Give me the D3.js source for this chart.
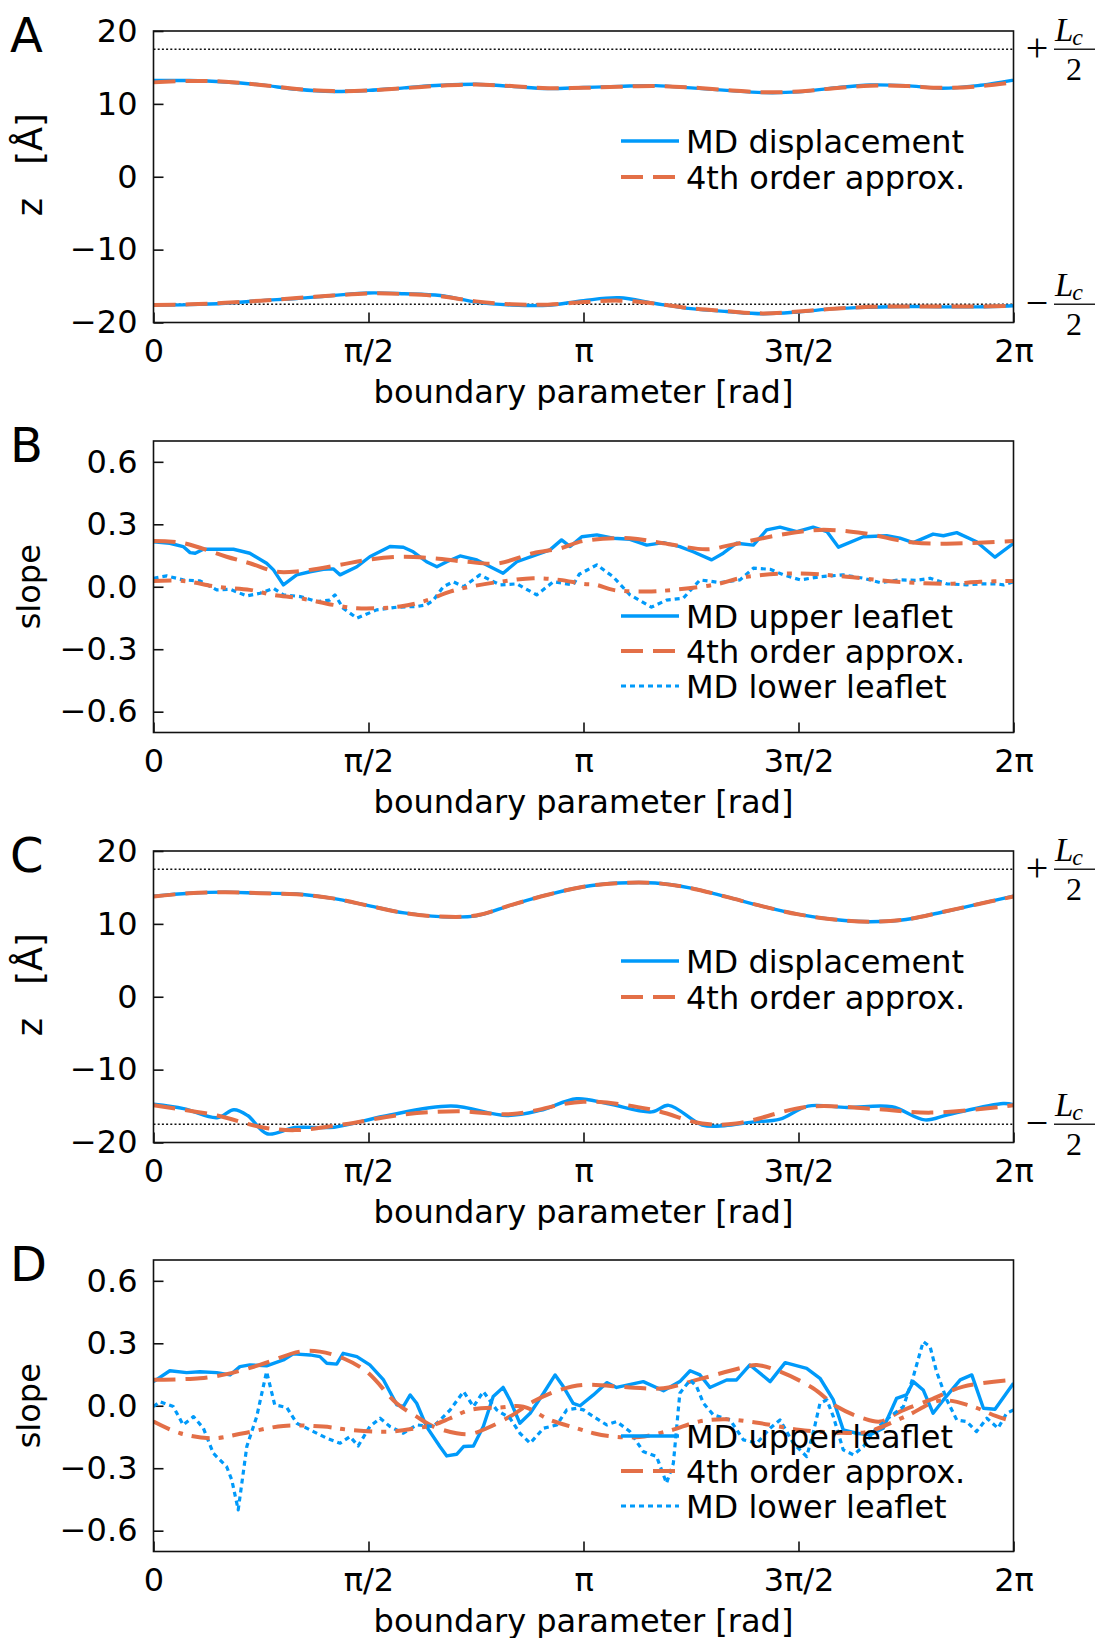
<!DOCTYPE html>
<html><head><meta charset="utf-8">
<script src="https://cdnjs.cloudflare.com/ajax/libs/d3/7.8.5/d3.min.js"></script>
<style>
body{margin:0;background:#fff}
svg{display:block}
text{font-family:"DejaVu Sans",sans-serif;fill:#000}
</style>
</head><body>
<svg id="c" width="1107" height="1638"></svg>
<script>
// ---------- axes / labels ----------
const xTickVals = [0, 0.5, 1, 1.5, 2];            // units of π
const xTickLabels = ["0", "π/2", "π", "3π/2", "2π"];
const zTicks = [-20, -10, 0, 10, 20];
const slopeTicks = [-0.6, -0.3, 0, 0.3, 0.6];
const halfLc = 17.5;
const panelLetters = ["A", "B", "C", "D"];

// ---------- Panel A (x in units of π) ----------
const aX = [0,0.083,0.167,0.25,0.333,0.417,0.5,0.583,0.667,0.75,0.833,0.917,1,1.083,1.167,1.25,1.333,1.417,1.5,1.583,1.667,1.75,1.833,1.917,2];
const aUpperMd  = [13.2,13.2,13.0,12.6,12.0,11.7,11.85,12.2,12.55,12.7,12.4,12.1,12.25,12.4,12.5,12.2,11.85,11.55,11.65,12.2,12.6,12.5,12.15,12.5,13.25];
const aUpperFit = [12.95,13.15,13.05,12.6,12.05,11.75,11.85,12.15,12.5,12.65,12.45,12.15,12.2,12.35,12.45,12.25,11.9,11.6,11.7,12.15,12.5,12.45,12.2,12.4,12.95];
const aLowerMd  = [-17.65,-17.55,-17.35,-17.0,-16.7,-16.3,-15.95,-16.05,-16.3,-17.2,-17.6,-17.65,-17.0,-16.6,-17.4,-18.1,-18.5,-18.8,-18.55,-18.1,-17.9,-17.8,-17.85,-17.85,-17.7];
const aLowerFit = [-17.6,-17.5,-17.3,-17.0,-16.65,-16.3,-16.0,-16.1,-16.4,-17.1,-17.5,-17.55,-17.2,-17.0,-17.4,-18.05,-18.45,-18.75,-18.5,-18.1,-17.85,-17.8,-17.8,-17.8,-17.7];

// ---------- Panel B ----------
const bUpperMdX = [0,0.038,0.069,0.085,0.097,0.116,0.186,0.224,0.263,0.279,0.302,0.333,0.364,0.395,0.418,0.434,0.473,0.503,0.55,0.581,0.604,0.635,0.659,0.682,0.713,0.752,0.783,0.813,0.845,0.883,0.922,0.949,0.969,0.996,1.031,1.069,1.108,1.147,1.186,1.224,1.255,1.298,1.325,1.356,1.395,1.426,1.457,1.496,1.534,1.566,1.593,1.651,1.705,1.736,1.767,1.813,1.837,1.868,1.914,1.957,2];
const bUpperMdY = [0.216,0.209,0.193,0.164,0.161,0.18,0.18,0.161,0.113,0.081,0.009,0.057,0.072,0.084,0.086,0.057,0.096,0.144,0.193,0.19,0.168,0.12,0.096,0.12,0.148,0.129,0.096,0.065,0.12,0.148,0.177,0.225,0.193,0.24,0.249,0.233,0.228,0.2,0.212,0.193,0.168,0.129,0.161,0.209,0.2,0.273,0.286,0.265,0.286,0.265,0.19,0.24,0.245,0.233,0.212,0.253,0.245,0.26,0.216,0.142,0.209];
const bUpperFitX = [0,0.069,0.17,0.224,0.286,0.341,0.434,0.496,0.574,0.65,0.728,0.8,0.883,0.945,1.0,1.108,1.186,1.287,1.341,1.457,1.55,1.651,1.767,1.883,2];
const bUpperFitY = [0.22,0.21,0.144,0.113,0.072,0.075,0.105,0.129,0.144,0.137,0.12,0.112,0.161,0.184,0.22,0.233,0.209,0.18,0.2,0.249,0.273,0.257,0.212,0.209,0.22];
const bLowerMdX = [0,0.031,0.069,0.108,0.147,0.178,0.217,0.248,0.279,0.302,0.341,0.38,0.41,0.422,0.441,0.473,0.519,0.566,0.612,0.635,0.651,0.674,0.697,0.721,0.759,0.806,0.845,0.891,0.93,0.976,0.99,1.031,1.069,1.108,1.158,1.193,1.232,1.271,1.318,1.364,1.395,1.434,1.465,1.504,1.55,1.604,1.651,1.69,1.736,1.774,1.806,1.845,1.891,1.922,1.961,1.977,2];
const bLowerMdY = [0.041,0.052,0.033,0.028,-0.015,-0.012,-0.044,-0.031,-0.007,-0.039,-0.047,-0.071,-0.064,-0.039,-0.103,-0.151,-0.111,-0.098,-0.095,-0.087,-0.064,0.0,0.024,0.0,0.057,0.009,0.014,-0.039,0.024,0.009,0.06,0.105,0.048,-0.039,-0.098,-0.064,-0.055,0.033,0.02,0.033,0.089,0.084,0.057,0.033,0.048,0.057,0.041,0.02,0.033,0.031,0.041,0.014,0.009,0.014,0.014,0.009,0.024];
const bLowerFitX = [0,0.069,0.147,0.224,0.278,0.341,0.418,0.473,0.573,0.627,0.69,0.736,0.806,0.883,0.945,0.999,1.03,1.069,1.147,1.209,1.302,1.38,1.496,1.612,1.729,1.845,1.922,2];
const bLowerFitY = [0.028,0.028,0.0,-0.015,-0.039,-0.055,-0.087,-0.103,-0.095,-0.071,-0.023,0.0,0.024,0.041,0.033,0.014,0.009,-0.015,-0.023,-0.015,0.009,0.048,0.064,0.048,0.024,0.014,0.024,0.028];

// ---------- Panel C ----------
const cUpperMd  = [13.8,14.2,14.35,14.2,14.1,13.5,12.5,11.5,11.0,11.1,12.6,14.0,15.1,15.6,15.6,14.9,13.7,12.4,11.3,10.6,10.3,10.6,11.6,12.7,13.8];
const cUpperFit = [13.75,14.2,14.35,14.2,14.05,13.5,12.5,11.5,11.0,11.15,12.6,14.0,15.1,15.6,15.6,14.9,13.7,12.4,11.3,10.6,10.3,10.6,11.6,12.7,13.75];
const cLowerMdX = [0,0.07,0.148,0.187,0.219,0.264,0.329,0.42,0.536,0.692,0.822,0.899,0.984,1.055,1.159,1.198,1.276,1.328,1.392,1.457,1.522,1.613,1.717,1.794,1.847,1.976,2];
const cLowerMdY = [-14.75,-15.35,-16.6,-15.5,-16.3,-18.8,-17.95,-17.9,-16.4,-15.0,-16.3,-15.6,-14.0,-14.65,-15.8,-14.9,-17.6,-17.7,-17.2,-16.8,-15.0,-15.2,-15.1,-16.9,-16.2,-14.65,-14.8];
const cLowerFitX = [0,0.148,0.252,0.329,0.445,0.575,0.706,0.834,1.0,1.159,1.276,1.355,1.522,1.678,1.808,2];
const cLowerFitY = [-14.9,-16.3,-17.9,-18.3,-17.5,-16.2,-15.7,-16.1,-14.4,-15.5,-17.4,-17.4,-15.1,-15.4,-15.9,-14.9];

// ---------- Panel D ----------
const dUpperMdX = [0,0.038,0.077,0.108,0.147,0.178,0.201,0.224,0.263,0.302,0.325,0.364,0.387,0.403,0.426,0.441,0.473,0.503,0.535,0.566,0.581,0.597,0.612,0.635,0.666,0.682,0.705,0.721,0.744,0.767,0.79,0.813,0.829,0.852,0.876,0.907,0.934,0.953,0.976,0.992,1.023,1.054,1.077,1.139,1.186,1.224,1.248,1.271,1.294,1.333,1.356,1.387,1.434,1.469,1.519,1.55,1.581,1.604,1.635,1.666,1.697,1.728,1.751,1.767,1.79,1.813,1.837,1.876,1.903,1.93,1.957,2];
const dUpperMdY = [0.116,0.168,0.159,0.163,0.159,0.148,0.188,0.196,0.192,0.22,0.249,0.244,0.236,0.204,0.2,0.252,0.236,0.196,0.124,0.004,-0.004,0.052,0.012,-0.1,-0.196,-0.241,-0.233,-0.196,-0.193,-0.1,0.044,0.088,0.027,-0.084,-0.036,0.06,0.148,0.092,0.011,0.0,0.052,0.111,0.088,0.116,0.072,0.116,0.168,0.148,0.088,0.124,0.124,0.196,0.116,0.207,0.18,0.132,0.028,-0.116,-0.132,-0.14,-0.108,0.035,0.052,0.116,0.076,-0.036,0.028,0.124,0.148,-0.012,-0.017,0.108];
const dUpperFitX = [0,0.108,0.17,0.247,0.34,0.387,0.441,0.496,0.566,0.612,0.651,0.705,0.736,0.775,0.829,0.883,0.945,1.0,1.108,1.186,1.263,1.379,1.403,1.457,1.534,1.589,1.65,1.69,1.736,1.806,1.883,2];
const dUpperFitY = [0.125,0.132,0.152,0.196,0.26,0.26,0.228,0.163,0.011,-0.052,-0.1,-0.132,-0.136,-0.108,-0.052,0.02,0.076,0.1,0.088,0.084,0.124,0.188,0.196,0.164,0.084,-0.004,-0.06,-0.076,-0.028,0.028,0.092,0.125];
const dLowerMdX = [0,0.015,0.046,0.069,0.093,0.116,0.139,0.17,0.182,0.197,0.217,0.24,0.263,0.282,0.31,0.333,0.372,0.403,0.434,0.457,0.476,0.503,0.527,0.55,0.581,0.612,0.651,0.69,0.721,0.744,0.767,0.798,0.829,0.852,0.876,0.907,0.938,0.961,0.984,1.0,1.023,1.054,1.077,1.108,1.139,1.17,1.193,1.209,1.224,1.248,1.263,1.279,1.302,1.341,1.372,1.403,1.434,1.457,1.488,1.519,1.534,1.55,1.566,1.581,1.604,1.628,1.651,1.674,1.713,1.744,1.767,1.79,1.806,1.821,1.845,1.868,1.891,1.914,1.938,1.964,1.984,2];
const dLowerMdY = [-0.004,0.02,-0.004,-0.092,-0.052,-0.108,-0.228,-0.292,-0.356,-0.5,-0.196,-0.052,0.164,0.004,-0.008,-0.084,-0.124,-0.156,-0.18,-0.148,-0.193,-0.1,-0.06,-0.1,-0.132,-0.092,-0.1,-0.02,0.068,-0.004,0.068,-0.02,-0.06,-0.132,-0.18,-0.108,-0.092,-0.02,-0.012,-0.02,-0.052,-0.092,-0.076,-0.124,-0.22,-0.244,-0.372,-0.276,0.06,0.124,0.092,0.012,-0.044,-0.068,-0.164,-0.18,-0.108,-0.068,-0.18,-0.244,-0.132,0.012,0.028,-0.052,-0.212,-0.236,-0.196,-0.124,-0.052,-0.004,0.14,0.308,0.284,0.164,0.028,-0.068,-0.076,-0.124,-0.06,-0.108,-0.036,-0.02];
const dLowerFitX = [0,0.062,0.139,0.209,0.302,0.395,0.457,0.55,0.612,0.651,0.69,0.736,0.806,0.86,0.922,0.984,1.023,1.069,1.13,1.2,1.27,1.33,1.4,1.5,1.6,1.66,1.75,1.83,1.9,1.96,2];
const dLowerFitY = [-0.076,-0.132,-0.156,-0.132,-0.097,-0.1,-0.116,-0.124,-0.108,-0.092,-0.06,-0.02,-0.008,-0.004,-0.068,-0.108,-0.132,-0.148,-0.15,-0.12,-0.075,-0.065,-0.08,-0.115,-0.13,-0.125,-0.05,0.025,0.0,-0.05,-0.076];

// ---------- drawing ----------
const BLUE = "#009AFA", ORANGE = "#E36F47";
const svg = d3.select("#c");
const X0 = 153.5, X1 = 1013.5, PH = 291.5;
const tops = [31, 441, 851, 1260];
const x = d3.scaleLinear().domain([0, 2]).range([X0, X1]);
const fmtMinus = s => s.replace("-", "\u2212");

function zip(xs, ys) { return xs.map((v, i) => [v, ys[i]]); }

function panel(i, kind, series, legend) {
  const top = tops[i];
  const g = svg.append("g");
  const y = kind === "z"
    ? d3.scaleLinear().domain([-20, 20]).range([top + PH, top])
    : d3.scaleLinear().domain([-0.7, 0.7]).range([top + PH, top]);

  // axes
  const yAxis = d3.axisLeft(y)
    .tickValues(kind === "z" ? zTicks : slopeTicks)
    .tickFormat(kind === "z" ? (d => fmtMinus(String(d))) : (d => fmtMinus(d3.format(".1f")(d))))
    .tickSizeInner(-10).tickSizeOuter(0).tickPadding(16);
  const ga = g.append("g").attr("transform", `translate(${X0},0)`).call(yAxis);
  const xAxis = d3.axisBottom(x).tickValues(xTickVals)
    .tickFormat((d, k) => xTickLabels[k])
    .tickSizeInner(-10).tickSizeOuter(0).tickPadding(17);
  const gb = g.append("g").attr("transform", `translate(0,${top + PH})`).call(xAxis);
  [ga, gb].forEach(a => {
    a.select(".domain").remove();
    a.selectAll(".tick line").attr("stroke", "#111").attr("stroke-width", 1.6);
    a.selectAll(".tick text").attr("font-size", 32).attr("font-family", "DejaVu Sans").attr("fill", "#000");
  });

  // clip
  const cid = "clip" + i;
  svg.append("clipPath").attr("id", cid).append("rect")
    .attr("x", X0).attr("y", top).attr("width", X1 - X0).attr("height", PH);
  const pg = g.append("g").attr("clip-path", `url(#${cid})`);

  if (kind === "z") {
    [halfLc, -halfLc].forEach(v => {
      pg.append("line").attr("x1", X0).attr("x2", X1).attr("y1", y(v)).attr("y2", y(v))
        .attr("stroke", "#111").attr("stroke-width", 1.4).attr("stroke-dasharray", "2,2.2");
    });
  }

  series.forEach(s => {
    const line = d3.line().x(d => x(d[0])).y(d => y(d[1]))
      .curve(s.smooth ? d3.curveCatmullRom.alpha(0.5) : d3.curveLinear);
    pg.append("path").datum(s.data).attr("d", line).attr("fill", "none")
      .attr("stroke", s.color).attr("stroke-width", s.width)
      .attr("stroke-dasharray", s.dash || null)
      .attr("stroke-linejoin", "round").attr("stroke-linecap", "butt");
  });

  // frame
  g.append("rect").attr("x", X0).attr("y", top).attr("width", X1 - X0).attr("height", PH)
    .attr("fill", "none").attr("stroke", "#111").attr("stroke-width", 1.6);

  // panel letter
  g.append("text").attr("x", 10).attr("y", top + 21).attr("font-size", 48).text(panelLetters[i]);

  // axis titles
  g.append("text").attr("x", (X0 + X1) / 2).attr("y", top + PH + 80)
    .attr("text-anchor", "middle").attr("font-size", 32).text("boundary parameter [rad]");
  if (kind === "z") {
    g.append("text").attr("transform", `translate(42,${top + PH / 2 - 12}) rotate(-90)`)
      .attr("text-anchor", "middle").attr("font-size", 35).attr("word-spacing", 22)
      .text("z [Å]");
  } else {
    g.append("text").attr("transform", `translate(40,${top + PH / 2}) rotate(-90)`)
      .attr("text-anchor", "middle").attr("font-size", 32).text("slope");
  }

  // legend
  legend.rows.forEach((r, k) => {
    const ly = top + legend.y0 + k * legend.dy;
    g.append("line").attr("x1", 621).attr("x2", 679).attr("y1", ly).attr("y2", ly)
      .attr("stroke", r.color).attr("stroke-width", r.width).attr("stroke-dasharray", r.dash || null);
    g.append("text").attr("x", 686).attr("y", ly + 11.5).attr("font-size", 32).text(r.label);
  });

  // ±Lc/2 labels
  if (kind === "z") {
    [[halfLc, "+"], [-halfLc, "\u2212"]].forEach(([v, sign]) => {
      const yy = y(v);
      const lg = g.append("g");
      lg.append("text").attr("x", 1037).attr("y", yy + 12).attr("text-anchor", "middle")
        .attr("font-size", 40).style("font-family", "Liberation Serif").attr("fill", "#666").text(sign);
      lg.append("line").attr("x1", 1054).attr("x2", 1095).attr("y1", yy).attr("y2", yy)
        .attr("stroke", "#222").attr("stroke-width", 1.4);
      const t = lg.append("text").attr("x", 1055).attr("y", yy - 8).attr("font-size", 33)
        .style("font-family", "Liberation Serif");
      t.append("tspan").attr("font-style", "italic").text("L");
      t.append("tspan").attr("font-style", "italic").attr("font-size", 24).attr("dy", 4).attr("dx", -1).text("c");
      lg.append("text").attr("x", 1074).attr("y", yy + 31).attr("text-anchor", "middle")
        .attr("font-size", 32).style("font-family", "Liberation Serif").text("2");
    });
  }
}

const mdSolid = { color: BLUE, width: 3.4 };
const fitDash = { color: ORANGE, width: 4, dash: "22,10" };
const mdDot = { color: BLUE, width: 3.2, dash: "5,4" };
const fitDashDot = { color: ORANGE, width: 4, dash: "18,9,5,9" };

panel(0, "z", [
  { data: zip(aX, aUpperMd), smooth: true, ...mdSolid },
  { data: zip(aX, aLowerMd), smooth: true, ...mdSolid },
  { data: zip(aX, aUpperFit), smooth: true, ...fitDash },
  { data: zip(aX, aLowerFit), smooth: true, ...fitDash }
], { y0: 110, dy: 36, rows: [
  { label: "MD displacement", ...mdSolid },
  { label: "4th order approx.", ...fitDash }
]});

panel(1, "slope", [
  { data: zip(bUpperMdX, bUpperMdY), smooth: false, ...mdSolid },
  { data: zip(bUpperFitX, bUpperFitY), smooth: true, ...fitDash },
  { data: zip(bLowerMdX, bLowerMdY), smooth: false, ...mdDot },
  { data: zip(bLowerFitX, bLowerFitY), smooth: true, ...fitDashDot }
], { y0: 175, dy: 35, rows: [
  { label: "MD upper leaflet", ...mdSolid },
  { label: "4th order approx.", ...fitDash },
  { label: "MD lower leaflet", ...mdDot }
]});

panel(2, "z", [
  { data: zip(aX, cUpperMd), smooth: true, ...mdSolid },
  { data: zip(cLowerMdX, cLowerMdY), smooth: true, ...mdSolid },
  { data: zip(aX, cUpperFit), smooth: true, ...fitDash },
  { data: zip(cLowerFitX, cLowerFitY), smooth: true, ...fitDash }
], { y0: 110, dy: 36, rows: [
  { label: "MD displacement", ...mdSolid },
  { label: "4th order approx.", ...fitDash }
]});

panel(3, "slope", [
  { data: zip(dUpperMdX, dUpperMdY), smooth: false, ...mdSolid },
  { data: zip(dUpperFitX, dUpperFitY), smooth: true, ...fitDash },
  { data: zip(dLowerMdX, dLowerMdY), smooth: false, ...mdDot },
  { data: zip(dLowerFitX, dLowerFitY), smooth: true, ...fitDashDot }
], { y0: 176, dy: 35, rows: [
  { label: "MD upper leaflet", ...mdSolid },
  { label: "4th order approx.", ...fitDash },
  { label: "MD lower leaflet", ...mdDot }
]});
</script>
</body></html>
